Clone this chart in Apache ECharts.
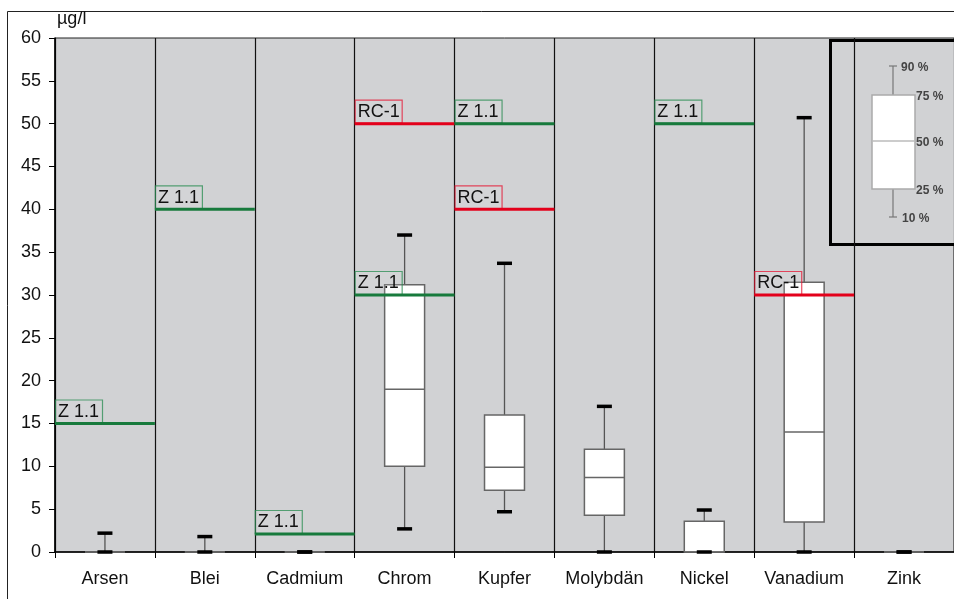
<!DOCTYPE html>
<html><head><meta charset="utf-8">
<script src="https://cdn.jsdelivr.net/npm/echarts@6/dist/echarts.min.js"></script>
<style>html,body{margin:0;padding:0;background:#fff}#c{width:954px;height:599px}</style>
</head><body><div id="c"></div>
<script>
const categories = ['Arsen','Blei','Cadmium','Chrom','Kupfer','Molybdän','Nickel','Vanadium','Zink'];
const p10 = [0, 0, 0, 2.7, 4.7, 0, 0, 0, 0];
const p25 = [0, 0, 0, 10.0, 7.2, 4.3, 0, 3.5, 0];
const p50 = [0, 0, 0, 19.0, 9.9, 8.7, 0, 14.0, 0];
const p75 = [0, 0, 0, 31.2, 16.0, 12.0, 3.6, 31.5, 0];
const p90 = [2.2, 1.8, 0, 37.0, 33.7, 17.0, 4.9, 50.7, 0];
const z11 = [15, 40, 2.1, 30, 50, null, 50, null, null];
const rc1 = [null, null, null, 50, 40, null, null, 30, null];
const yTicks = [0,5,10,15,20,25,30,35,40,45,50,55,60];
const legendLabels = ['90 %','75 %','50 %','25 %','10 %'];

const FONT = 'Liberation Sans, Arial, sans-serif';
const FS = 18;
const boxData = categories.map((c,i)=>[i, p10[i], p25[i], p50[i], p75[i], p90[i]]);
function refData(arr){ const d=[]; arr.forEach((v,i)=>{ if(v!==null) d.push([i,v]); }); return d; }

function renderBox(params, api){
  const i = api.value(0);
  const bw = api.size([1,0])[0];
  const half = bw*0.2;
  const capHalf = 7.5;
  const pt = k => api.coord([i, api.value(k)]);
  const a = pt(1), b = pt(2), m = pt(3), c = pt(4), d = pt(5);
  const x = a[0];
  const lineStyle = {stroke:'#555', lineWidth:1.3};
  return {type:'group', children:[
    {type:'line', shape:{x1:x,y1:d[1],x2:x,y2:c[1]}, style:lineStyle},
    {type:'line', shape:{x1:x,y1:b[1],x2:x,y2:a[1]}, style:lineStyle},
    {type:'rect', shape:{x:x-half,y:c[1],width:half*2,height:b[1]-c[1]}, style:{fill:'#fff',stroke:'#666',lineWidth:1.5}},
    {type:'line', shape:{x1:x-half,y1:m[1],x2:x+half,y2:m[1]}, style:{stroke:'#666',lineWidth:1.5}},
    {type:'line', shape:{x1:x-capHalf,y1:d[1],x2:x+capHalf,y2:d[1]}, style:{stroke:'#000',lineWidth:3.5}},
    {type:'line', shape:{x1:x-capHalf,y1:a[1],x2:x+capHalf,y2:a[1]}, style:{stroke:'#000',lineWidth:3.5}}
  ]};
}
function makeRef(lineColor, boxColor, label){
  return function(params, api){
    const i = api.value(0);
    const p = api.coord([i, api.value(1)]);
    const bw = api.size([1,0])[0];
    const x0 = p[0]-bw/2;
    return {type:'group', children:[
      {type:'rect', shape:{x:x0+0.5,y:p[1]-23.5,width:47,height:23}, style:{fill:'rgba(230,230,230,0.15)',stroke:boxColor,lineWidth:1.2}},
      {type:'text', x:x0+3, y:p[1]-11.5, style:{text:label,fill:'#111',font:FS+'px '+FONT,verticalAlign:'middle',align:'left'}},
      {type:'line', shape:{x1:x0,y1:p[1],x2:x0+bw,y2:p[1]}, style:{stroke:lineColor,lineWidth:3}}
    ]};
  };
}

// legend key (decoration)
const LX=830, LY=40;
const legY=[66,95,141,189,217];
const legendChildren = [
  {type:'rect', shape:{x:LX+0.5,y:LY+0.5,width:140,height:204}, style:{fill:'#d1d2d4',stroke:'#000',lineWidth:3}},
  {type:'line', shape:{x1:893,y1:legY[0],x2:893,y2:legY[1]}, style:{stroke:'#777',lineWidth:1.2}},
  {type:'line', shape:{x1:893,y1:legY[3],x2:893,y2:legY[4]}, style:{stroke:'#777',lineWidth:1.2}},
  {type:'line', shape:{x1:889,y1:legY[0],x2:897,y2:legY[0]}, style:{stroke:'#777',lineWidth:1.2}},
  {type:'line', shape:{x1:889,y1:legY[4],x2:897,y2:legY[4]}, style:{stroke:'#777',lineWidth:1.2}},
  {type:'rect', shape:{x:872,y:legY[1],width:43,height:legY[3]-legY[1]}, style:{fill:'#fff',stroke:'#aaa',lineWidth:1.5}},
  {type:'line', shape:{x1:872,y1:legY[2],x2:915,y2:legY[2]}, style:{stroke:'#bbb',lineWidth:1.5}}
];
const legX=[901,916,916,916,902];
legendLabels.forEach((t,k)=>legendChildren.push({type:'text', x:legX[k], y:legY[k]+2, style:{text:t,fill:'#444',font:'bold 12px '+FONT,verticalAlign:'middle'}}));

const chart = echarts.init(document.getElementById('c'));
chart.setOption({
  animation:false,
  backgroundColor:'#fff',
  grid:{left:55, top:38, width:902, height:514, show:true, backgroundColor:'#d1d2d4', borderColor:'#222', borderWidth:1},
  xAxis:{type:'category', data:categories, boundaryGap:true,
    axisLine:{lineStyle:{color:'#000',width:1.5}},
    axisTick:{show:true, length:6, alignWithLabel:false, lineStyle:{color:'#000'}},
    axisLabel:{color:'#111', fontSize:FS, fontFamily:FONT, margin:18, interval:0},
    splitLine:{show:true, interval:0, lineStyle:{color:'#111', width:1.2}}
  },
  yAxis:{type:'value', min:0, max:60, interval:5,
    name:'µg/l', nameLocation:'end', nameGap:10,
    nameTextStyle:{color:'#111', fontSize:FS, fontFamily:FONT, align:'left', padding:[0,0,0,2]},
    axisLine:{show:true, lineStyle:{color:'#000',width:1.5}},
    axisTick:{show:true, length:6, lineStyle:{color:'#000'}},
    axisLabel:{color:'#111', fontSize:FS, fontFamily:FONT, margin:14,
      formatter:v=> yTicks.includes(v)? String(v):''},
    splitLine:{show:false}
  },
  graphic:[
    {type:'rect', shape:{x:7.5,y:11.5,width:1000,height:700}, style:{fill:'none',stroke:'#222',lineWidth:1}, z:-1},
    {type:'group', z:100, children:legendChildren}
  ],
  series:[
    {type:'custom', renderItem:renderBox, data:boxData, encode:{x:0,y:[1,2,3,4,5]}, z:3},
    {type:'custom', renderItem:makeRef('#e3001b','rgba(230,20,50,0.75)','RC-1'), data:refData(rc1), encode:{x:0,y:1}, z:5},
    {type:'custom', renderItem:makeRef('#177a3c','rgba(40,140,80,0.75)','Z 1.1'), data:refData(z11), encode:{x:0,y:1}, z:6}
  ]
});
</script></body></html>
